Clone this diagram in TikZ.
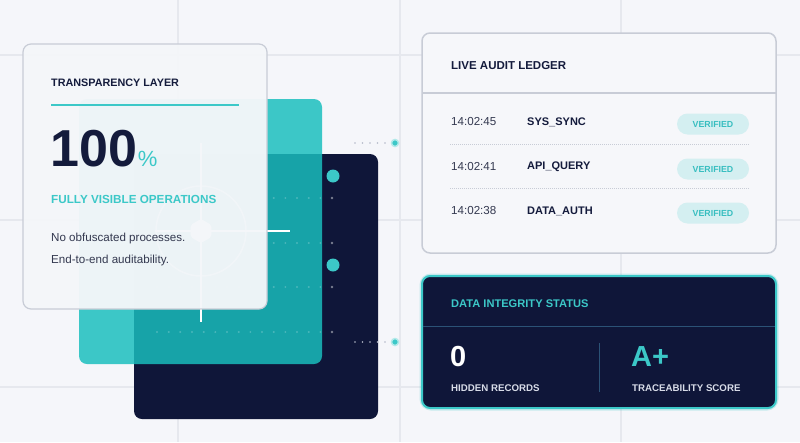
\documentclass[tikz,border=0pt]{standalone}
\usepackage{fontspec}
\setmainfont{Liberation Sans}
\usepackage{xcolor}

\definecolor{bg}{HTML}{F5F6FA}
\definecolor{gridline}{HTML}{E6E8EE}
\definecolor{navy}{HTML}{0F1639}
\definecolor{aqua}{HTML}{3CC8C8}
\definecolor{deepaqua}{HTML}{19BFBE}
\definecolor{ink}{HTML}{141B3C}
\definecolor{slate}{HTML}{33384F}
\definecolor{edge}{HTML}{C8CCD6}
\definecolor{panel}{HTML}{F6F7FA}
\definecolor{frost}{HTML}{F4F6F9}
\definecolor{pill}{HTML}{D4EFF1}
\definecolor{pilltext}{HTML}{38BEC0}
\definecolor{rule}{HTML}{2B5276}
\definecolor{mist}{HTML}{D8DCE8}
\definecolor{leadgray}{HTML}{B4B9C8}

\tikzset{
  lbl/.style={anchor=west, inner sep=0pt},
  caps/.style={lbl, font=\fontsize{10.8}{12}\selectfont\bfseries},
  body/.style={lbl, text=slate, font=\fontsize{11.6}{13}\selectfont},
  bignum/.style={lbl, font=\fontsize{29}{29}\selectfont\bfseries},
  smallcaps/.style={lbl, text=mist, font=\fontsize{9.7}{11}\selectfont\bfseries},
  pill/.style={fill=pill, rounded corners=10.5pt, minimum width=72pt, minimum height=21pt,
    inner sep=0pt, text=pilltext, font=\fontsize{8.8}{9}\selectfont\bfseries},
  portdot/.style={circle, fill=aqua, draw=aqua!40, line width=1.5pt, minimum size=7pt, inner sep=0pt},
  lead/.style={leadgray, line width=1.8pt, line cap=round, dash pattern=on 0pt off 7.5pt}
}

\begin{document}
\begin{tikzpicture}[x=1pt,y=-1pt]
\useasboundingbox (0,0) rectangle (800,442);
\fill [bg] (0,0) rectangle (800,442);
\foreach \gx in {178,400,621}
  \draw [gridline, line width=1.2pt] (\gx,0) -- (\gx,442);
\foreach \gy in {55,220,387}
  \draw [gridline, line width=1.2pt] (0,\gy) -- (800,\gy);

\fill [navy, rounded corners=8pt] (134,154) rectangle (378,419);
\fill [deepaqua, opacity=0.84, rounded corners=8pt] (79,99) rectangle (322,364);

\foreach \ry in {198,243,287,332} {
  \draw [white, opacity=0.22, line width=2.2pt, line cap=round, dash pattern=on 0pt off 11.67pt] (157,\ry) -- (332,\ry);
  \fill [white, opacity=0.45] (332,\ry) circle (1.3);
}
\fill [aqua] (333,176) circle (6.5);
\fill [aqua] (333,265) circle (6.5);

\draw [white, line width=2.5pt] (201,143) -- (201,322);
\draw [white, line width=2.5pt] (155,231) -- (290,231);
\draw [white, opacity=0.7, line width=1.5pt] (201,231) circle (45);
\fill [white, rounded corners=2pt] (201,231) +(90:12) -- +(30:12) -- +(-30:12) -- +(-90:12) -- +(-150:12) -- +(150:12) -- cycle;

\draw [edge, fill=frost, fill opacity=0.965, line width=1.2pt, rounded corners=8pt] (23,44) rectangle (267,309);
\node [caps, text=ink] (layer) at (51,83) {TRANSPARENCY LAYER};
\draw [aqua, line width=1.8pt] (51,105) -- (239,105);
\node [lbl, anchor=base west, text=ink, font=\fontsize{52}{52}\selectfont\bfseries] (pct) at (50,166) {100};
\node [lbl, anchor=base west, text=aqua, font=\fontsize{22}{22}\selectfont] (pctsign) at ([xshift=0.5pt]pct.base east) {\%};
\node [lbl, text=aqua, font=\fontsize{11.7}{13}\selectfont\bfseries] (visible) at (51,199) {FULLY VISIBLE OPERATIONS};
\node [body] (line1) at (51,238) {No obfuscated processes.};
\node [body] (line2) at (51,260) {End-to-end auditability.};

\coordinate (tail1) at (355,143);
\node [portdot] (port1) at (395,143) {};
\draw [lead] (tail1) -- (port1);
\coordinate (tail2) at (355,342);
\node [portdot] (port2) at (395,342) {};
\draw [lead] (tail2) -- (port2);

\draw [edge, fill=panel, line width=1.5pt, rounded corners=8pt] (422,33) rectangle (776,253);
\draw [edge, line width=1.5pt] (422,93) -- (776,93);
\node [lbl, text=ink, font=\fontsize{11.5}{13}\selectfont\bfseries] (ledger) at (451,66) {LIVE AUDIT LEDGER};
\foreach \t/\op/\ry [count=\i] in {14:02:45/SYS\_SYNC/122, 14:02:41/API\_QUERY/167, 14:02:38/DATA\_AUTH/211} {
  \node [body, text=slate] (time\i) at (451,\ry) {\t};
  \node [lbl, text=ink, font=\fontsize{11}{13}\selectfont\bfseries] (op\i) at (527,\ry) {\op};
  \node [pill] (ok\i) at (713,\ry+2) {VERIFIED};
}
\foreach \sy in {144,188}
  \draw [edge, line width=0.8pt, dash pattern=on 1pt off 1pt] (450,\sy) -- (750,\sy);

\draw [aqua, opacity=0.25, line width=5pt, rounded corners=9pt] (422,276) rectangle (776,408);
\draw [aqua, fill=navy, line width=2pt, rounded corners=8pt] (422,276) rectangle (776,408);
\draw [rule, line width=1pt] (423,326) -- (775,326);
\draw [rule, line width=1pt] (599,343) -- (599,392);
\node [caps, text=aqua, font=\fontsize{11.1}{12}\selectfont\bfseries] (status) at (451,304) {DATA INTEGRITY STATUS};
\node [bignum, text=white] (hidden) at (450,357) {0};
\node [smallcaps] (hiddenlbl) at (451,388) {HIDDEN RECORDS};
\node [bignum, text=aqua] (score) at (631,357) {A+};
\node [smallcaps] (scorelbl) at (632,388) {TRACEABILITY SCORE};
\end{tikzpicture}
\end{document}
